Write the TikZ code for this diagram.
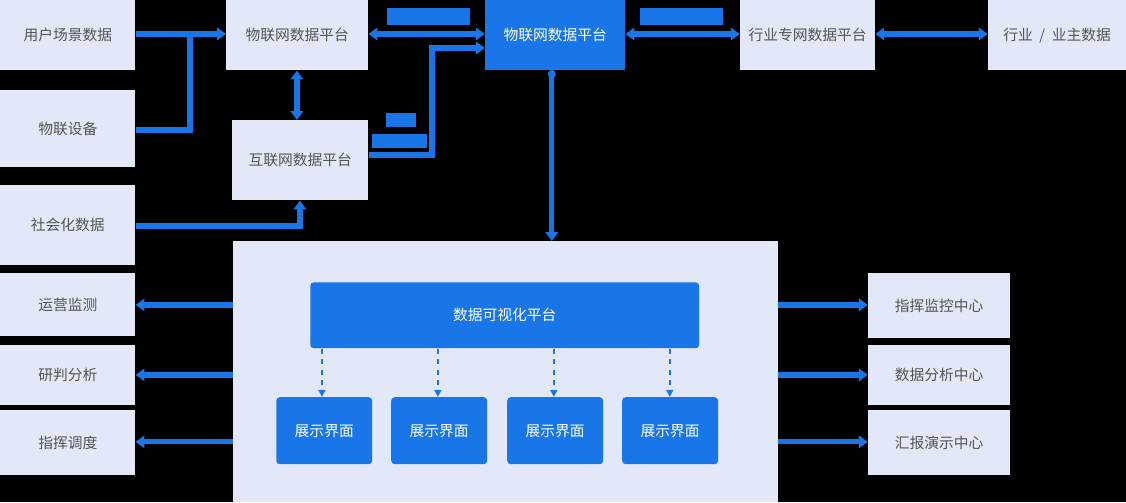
\documentclass[tikz,border=0pt]{standalone}
\usepackage{fontspec}
\setmainfont{Noto Sans CJK SC}
\usetikzlibrary{arrows.meta}
\definecolor{lb}{HTML}{E3E8F8}
\definecolor{bl}{HTML}{1976E8}
\definecolor{tg}{HTML}{555555}
\begin{document}
\begin{tikzpicture}[x=0.02cm,y=-0.02cm,
  lbox/.style={fill=lb,draw=none,text=tg,font=\fontsize{8.4}{10}\selectfont,anchor=north west,inner sep=0pt},
  bbox/.style={fill=bl,draw=none,text=white,font=\fontsize{8.4}{10}\selectfont,anchor=north west,inner sep=0pt,rounded corners=2pt},
  ar/.style={draw=bl,line width=3pt,-{Triangle[length=5pt,width=7pt]}},
  br/.style={draw=bl,line width=3pt,{Triangle[length=5pt,width=7pt]}-{Triangle[length=5pt,width=7pt]}},
  da/.style={draw=bl,line width=0.8pt,dashed,-{Triangle[length=4pt,width=4pt]}},
  tag/.style={fill=bl,draw=none,inner sep=0pt}]
\fill[black] (0,0) rectangle (1126,502);
% sources
\node[lbox,minimum width=135*0.02cm,minimum height=70*0.02cm] (u) at (0,0) {用户场景数据};
\node[lbox,minimum width=135*0.02cm,minimum height=77*0.02cm] (d) at (0,90) {物联设备};
\node[lbox,minimum width=135*0.02cm,minimum height=80*0.02cm] (s) at (0,185) {社会化数据};
\node[lbox,minimum width=142*0.02cm,minimum height=70*0.02cm] (p1) at (226,0) {物联网数据平台};
\node[lbox,minimum width=136*0.02cm,minimum height=80*0.02cm] (p2) at (232,120) {互联网数据平台};
\node[bbox,minimum width=140*0.02cm,minimum height=70*0.02cm,rounded corners=0pt] (p3) at (485,0) {物联网数据平台};
\node[lbox,minimum width=135*0.02cm,minimum height=70*0.02cm] (p4) at (740,0) {行业专网数据平台};
\node[lbox,minimum width=138*0.02cm,minimum height=70*0.02cm] (p5) at (988,0) {行业\ \ /\ \ 业主数据};
% panel
\node[fill=lb,draw=none,anchor=north west,inner sep=0pt,minimum width=545*0.02cm,minimum height=261*0.02cm] (pan) at (233,241) {};
\node[bbox,minimum width=389*0.02cm,minimum height=66*0.02cm] (viz) at (310,282) {数据可视化平台};
\foreach \x/\n in {276/a,391/b,507/c,622/d}
  \node[bbox,minimum width=96*0.02cm,minimum height=67*0.02cm] (z\n) at (\x,397) {展示界面};
\foreach \n/\x in {a/322,b/438,c/554,d/670}
  \draw[da] (viz.south -| \x,0) -- (z\n.north -| \x,0);
% left outputs
\node[lbox,minimum width=135*0.02cm,minimum height=63*0.02cm] (l1) at (0,273) {运营监测};
\node[lbox,minimum width=135*0.02cm,minimum height=60*0.02cm] (l2) at (0,345) {研判分析};
\node[lbox,minimum width=135*0.02cm,minimum height=65*0.02cm] (l3) at (0,410) {指挥调度};
\node[lbox,minimum width=142*0.02cm,minimum height=65*0.02cm] (r1) at (868,273) {指挥监控中心};
\node[lbox,minimum width=142*0.02cm,minimum height=60*0.02cm] (r2) at (868,345) {数据分析中心};
\node[lbox,minimum width=142*0.02cm,minimum height=65*0.02cm] (r3) at (868,410) {汇报演示中心};
\foreach \n/\y in {l1/305,l2/375,l3/442} \draw[ar] (pan.west |- 0,\y) -- (\n.east |- 0,\y);
\foreach \n/\y in {r1/305,r2/375,r3/442} \draw[ar] (pan.east |- 0,\y) -- (\n.west |- 0,\y);
% top connectors
\draw[ar] (u.east |- 0,34) -- (p1.west |- 0,34);
\draw[ar,-] (d.east |- 0,130) -| (190,34);
\draw[br] (p1.east |- 0,34) -- (p3.west |- 0,34);
\draw[br] (p1.south -| 297,0) -- (p2.north -| 297,0);
\draw[ar] (p2.east |- 0,155) -| (432,48) -- (p3.west |- 0,48);
\draw[ar] (s.east |- 0,226) -| (p2.south -| 300,0);
\draw[br] (p3.east |- 0,34) -- (p4.west |- 0,34);
\draw[br] (p4.east |- 0,34) -- (p5.west |- 0,34);
\draw[ar] (p3.south -| 552,0) -- (pan.north -| 552,0);
\fill[bl] (552,74) circle (4);
% label tags
\node[tag,anchor=north west,minimum width=83*0.02cm,minimum height=17*0.02cm] (t1) at (387,8) {};
\node[tag,anchor=north west,minimum width=83*0.02cm,minimum height=17*0.02cm] (t2) at (640,8) {};
\node[tag,anchor=north west,minimum width=30*0.02cm,minimum height=14*0.02cm] (t3) at (386,113) {};
\node[tag,anchor=north west,minimum width=55*0.02cm,minimum height=14*0.02cm] (t4) at (372,134) {};
\end{tikzpicture}
\end{document}
